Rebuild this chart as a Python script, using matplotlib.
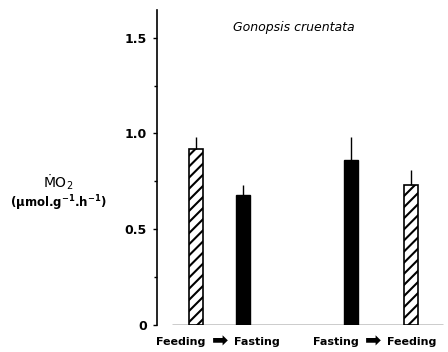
import matplotlib
matplotlib.use("Agg")
import matplotlib.pyplot as plt

# Data
bar_labels = ["Feeding", "Fasting", "Fasting", "Feeding"]
values = [0.92, 0.68, 0.86, 0.73]
errors = [0.06, 0.05, 0.12, 0.08]
hatched = [True, False, False, True]
group_words = [("Feeding", "Fasting"), ("Fasting", "Feeding")]
arrow_char = "\u27a1"
title = "Gonopsis cruentata"
yticks = [0, 0.5, 1.0, 1.5]
yticklabels = ["0", "0.5", "1.0", "1.5"]

# Layout
positions = [0.0, 1.0, 3.30, 4.57]
group_arrow_x = [0.51, 3.77]
bar_width = 0.30

plt.rcParams['font.family'] = ['DejaVu Sans']
plt.rcParams['mathtext.default'] = 'regular'
plt.rcParams['hatch.linewidth'] = 1.5

fig = plt.figure(figsize=(4.48, 3.52), dpi=100)
ax = fig.add_axes([0.350, 0.0767, 0.65, 0.895])

for x, v, e, h in zip(positions, values, errors, hatched):
    if h:
        ax.bar(x, v, width=bar_width, facecolor='white', edgecolor='black',
               hatch='///', linewidth=1.2, zorder=2)
    else:
        ax.bar(x, v, width=bar_width, facecolor='black', edgecolor='black',
               linewidth=1.0, zorder=2)
    ax.vlines(x, v, v + e, color='black', linewidth=1.0, zorder=3)

ax.hlines(0, -0.51, 5.26, color='black', linewidth=1.0, zorder=1)

ax.set_xlim(-0.83, 5.36)
ax.set_ylim(0, 1.645)
for s in ['top', 'right', 'bottom']:
    ax.spines[s].set_visible(False)
ax.spines['left'].set_linewidth(1.2)
ax.set_xticks([])
ax.set_yticks(yticks)
ax.set_yticklabels(yticklabels, fontsize=9, fontweight='bold')
ax.set_yticks([0.25, 0.75, 1.25], minor=True)
ax.tick_params(axis='y', which='major', direction='out', length=3, width=1, pad=4)
ax.tick_params(axis='y', which='minor', direction='out', length=2, width=1)

for ax_x, (w1, w2) in zip(group_arrow_x, group_words):
    ax.text(ax_x - 0.3, -0.09, w1, ha='right', va='center', fontsize=8,
            fontweight='bold', clip_on=False)
    ax.text(ax_x, -0.085, arrow_char, ha='center', va='center', fontsize=14,
            fontweight='bold', clip_on=False)
    ax.text(ax_x + 0.3, -0.09, w2, ha='left', va='center', fontsize=8,
            fontweight='bold', clip_on=False)

fig.text(294 / 448, 1 - 28 / 352, title, ha='center', va='center',
         fontsize=9, style='italic')
fig.text(58 / 448, 1 - 182 / 352, '\u1e40O$_2$', ha='center', va='center',
         fontsize=10)
fig.text(58 / 448, 1 - 203 / 352, r'($\mu$mol.g$^{-1}$.h$^{-1}$)', ha='center',
         va='center', fontsize=8.5, fontweight='bold')

fig.savefig('out.png', dpi=100)
